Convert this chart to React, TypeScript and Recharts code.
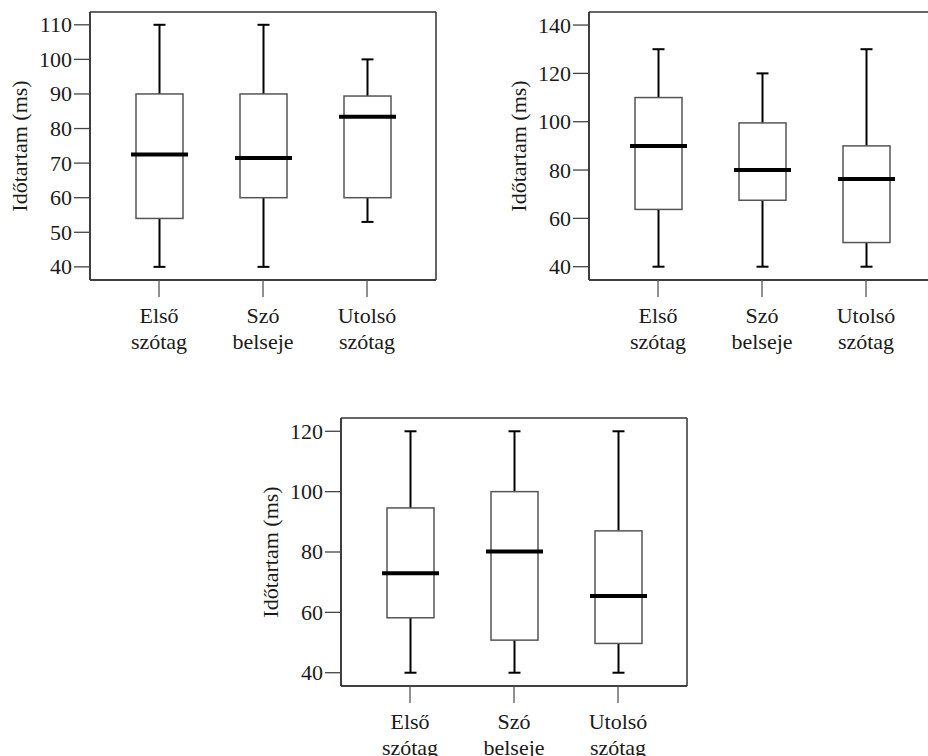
import React from 'react'
import { ComposedChart, Bar, XAxis, YAxis, CartesianGrid } from 'recharts'

const FONT = 'Liberation Serif'
const FRAME = '#333'
const TEXT_STYLE = { fontFamily: FONT, fontSize: '22px' }

const CATEGORIES = ['Első szótag', 'Szó belseje', 'Utolsó szótag']

// top left panel
const P1_MIN = [40, 40, 53]
const P1_Q1 = [54, 60, 60]
const P1_MEDIAN = [72.5, 71.5, 83.4]
const P1_Q3 = [90, 90, 89.4]
const P1_MAX = [110, 110, 100]
const P1_TICKS = [40, 50, 60, 70, 80, 90, 100, 110]
const P1_DOMAIN = [36.2, 113.7]

// top right panel
const P2_MIN = [40, 40, 40]
const P2_Q1 = [63.7, 67.5, 50]
const P2_MEDIAN = [90, 80, 76.3]
const P2_Q3 = [110, 99.5, 90]
const P2_MAX = [130, 120, 130]
const P2_TICKS = [40, 60, 80, 100, 120, 140]
const P2_DOMAIN = [34.5, 145.4]

// bottom panel
const P3_MIN = [40, 40, 40]
const P3_Q1 = [58.2, 50.8, 49.7]
const P3_MEDIAN = [73, 80.2, 65.4]
const P3_Q3 = [94.6, 100, 87]
const P3_MAX = [120, 120, 120]
const P3_TICKS = [40, 60, 80, 100, 120]
const P3_DOMAIN = [35.6, 124.4]

function buildRows(min: number[], q1: number[], med: number[], q3: number[], max: number[]) {
  return CATEGORIES.map((name, i) => ({
    name,
    min: min[i],
    q1: q1[i],
    median: med[i],
    q3: q3[i],
    max: max[i],
    range: [min[i], max[i]],
  }))
}

function BoxShape(props: any) {
  const { x, y, width, height, payload } = props
  if (!payload) return null
  const top = Math.min(y, y + height)
  const h = Math.abs(height)
  const span = payload.max - payload.min
  const py = (v: number) => top + (h * (payload.max - v)) / span
  const cx = x + width / 2
  const boxL = x + 5
  const boxW = width - 10
  const cap = 6
  return (
    <g>
      <line x1={cx} x2={cx} y1={py(payload.max)} y2={py(payload.q3)} stroke="#000" strokeWidth={2} />
      <line x1={cx} x2={cx} y1={py(payload.q1)} y2={py(payload.min)} stroke="#000" strokeWidth={2} />
      <line x1={cx - cap} x2={cx + cap} y1={py(payload.max)} y2={py(payload.max)} stroke="#000" strokeWidth={2} />
      <line x1={cx - cap} x2={cx + cap} y1={py(payload.min)} y2={py(payload.min)} stroke="#000" strokeWidth={2} />
      <rect
        x={boxL}
        y={py(payload.q3)}
        width={boxW}
        height={py(payload.q1) - py(payload.q3)}
        fill="#fff"
        stroke="#555"
        strokeWidth={1.5}
      />
      <line x1={x} x2={x + width} y1={py(payload.median)} y2={py(payload.median)} stroke="#000" strokeWidth={4} />
    </g>
  )
}

function CatTick({ x, y, payload }: any) {
  const [a, b] = String(payload.value).split(' ')
  return (
    <g transform={`translate(${x},${y})`}>
      <text textAnchor="middle" fontFamily={FONT} fontSize={22} style={TEXT_STYLE} fill="#1a1a1a">
        <tspan x={0} y={26}>{a}</tspan>
        <tspan x={0} y={52}>{b}</tspan>
      </text>
    </g>
  )
}

function YTick({ x, y, payload }: any) {
  return (
    <text x={x} y={y} dy="0.34em" textAnchor="end" fontFamily={FONT} fontSize={22} style={TEXT_STYLE} fill="#1a1a1a">
      {payload.value}
    </text>
  )
}

function YTitle(props: any) {
  const vb = props.viewBox || { x: 0, y: 12, width: 90, height: 268 }
  const cx = vb.x + 19
  const cy = vb.y + vb.height / 2
  return (
    <text
      x={cx}
      y={cy}
      transform={`rotate(-90, ${cx}, ${cy})`}
      textAnchor="middle"
      dominantBaseline="central"
      fontFamily={FONT}
      fontSize={22}
      style={TEXT_STYLE}
      fill="#1a1a1a"
    >
      Időtartam (ms)
    </text>
  )
}

// frame around the plot area: grid lines only at its edges
const frameRows = (p: any) => {
  const o = p && p.offset
  return o ? [o.top, o.top + o.height] : [12, 280]
}
const frameCols = (p: any) => {
  const o = p && p.offset
  return o ? [o.left, o.left + o.width] : [90, 436]
}

interface PanelProps {
  rows: ReturnType<typeof buildRows>
  ticks: number[]
  domain: number[]
  left: number
  top: number
}

function Panel({ rows, ticks, domain, left, top }: PanelProps) {
  return (
    <div style={{ position: 'absolute', left, top }}>
      <ComposedChart
        width={460}
        height={360}
        data={rows}
        margin={{ top: 12, right: 24, bottom: 0, left: 0 }}
      >
        <CartesianGrid
          stroke={FRAME}
          strokeWidth={1.5}
          horizontalCoordinatesGenerator={frameRows}
          verticalCoordinatesGenerator={frameCols}
        />
        <XAxis
          dataKey="name"
          height={80}
          padding={{ left: 17, right: 17 }}
          axisLine={{ stroke: FRAME, strokeWidth: 1.5 }}
          tickLine={{ stroke: '#555', strokeWidth: 1.3 }}
          tickSize={17}
          tickMargin={0}
          tick={<CatTick />}
          interval={0}
        />
        <YAxis
          type="number"
          domain={domain}
          ticks={ticks}
          allowDataOverflow
          width={90}
          interval={0}
          tickSize={16}
          tickMargin={2}
          axisLine={{ stroke: FRAME, strokeWidth: 1.5 }}
          tickLine={{ stroke: '#444', strokeWidth: 1.3 }}
          tick={<YTick />}
          label={{ content: (p: any) => <YTitle {...p} /> }}
        />
        <Bar
          dataKey="range"
          barSize={57}
          isAnimationActive={false}
          shape={(p: any) => <BoxShape {...p} />}
        />
      </ComposedChart>
    </div>
  )
}

export default function App() {
  const rows1 = buildRows(P1_MIN, P1_Q1, P1_MEDIAN, P1_Q3, P1_MAX)
  const rows2 = buildRows(P2_MIN, P2_Q1, P2_MEDIAN, P2_Q3, P2_MAX)
  const rows3 = buildRows(P3_MIN, P3_Q1, P3_MEDIAN, P3_Q3, P3_MAX)
  return (
    <div
      style={{
        position: 'absolute',
        left: 0,
        top: 0,
        width: 928,
        height: 756,
        overflow: 'hidden',
        background: '#fff',
      }}
    >
      <Panel rows={rows1} ticks={P1_TICKS} domain={P1_DOMAIN} left={0} top={0} />
      <Panel rows={rows2} ticks={P2_TICKS} domain={P2_DOMAIN} left={499} top={0} />
      <Panel rows={rows3} ticks={P3_TICKS} domain={P3_DOMAIN} left={251} top={406} />
    </div>
  )
}
